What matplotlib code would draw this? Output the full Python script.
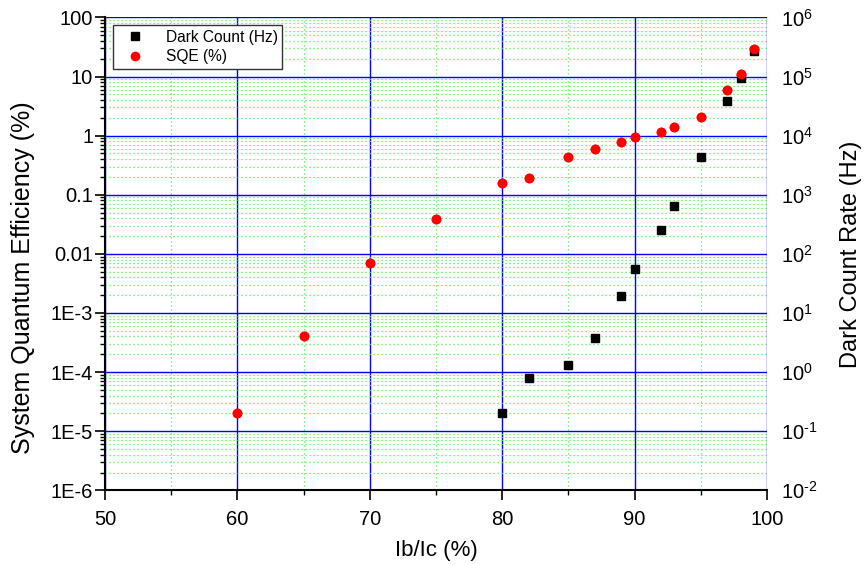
import matplotlib
matplotlib.use("Agg")
import matplotlib.pyplot as plt
from matplotlib.ticker import FixedLocator, FixedFormatter, LogLocator, NullFormatter, MultipleLocator

plt.rcParams['font.family'] = ['Liberation Sans', 'DejaVu Sans']
plt.rcParams['mathtext.fontset'] = 'custom'
plt.rcParams['mathtext.rm'] = 'Liberation Sans'
plt.rcParams['mathtext.it'] = 'Liberation Sans:italic'
plt.rcParams['mathtext.default'] = 'regular'

# Bias current ratio Ib/Ic (%)
sqe_bias = [60, 65, 70, 75, 80, 82, 85, 87, 89, 90, 92, 93, 95, 97, 98, 99]
# System quantum efficiency (%)
sqe_values = [2.0e-5, 4.0e-4, 7.1e-3, 0.039, 0.158, 0.19, 0.44, 0.60, 0.77,
              0.94, 1.17, 1.41, 2.1, 5.9, 11.1, 29.3]

dark_bias = [80, 82, 85, 87, 89, 90, 92, 93, 95, 97, 98, 99]
# Dark count rate (Hz)
dark_values = [0.20, 0.78, 1.34, 3.7, 19.5, 56, 249, 652, 4335, 38270, 93600, 274000]

left_tick_values = [1e-6, 1e-5, 1e-4, 1e-3, 1e-2, 1e-1, 1, 10, 100]
left_tick_labels = ['1E-6', '1E-5', '1E-4', '1E-3', '0.01', '0.1', '1', '10', '100']
right_tick_exponents = [-2, -1, 0, 1, 2, 3, 4, 5, 6]
x_ticks = [50, 60, 70, 80, 90, 100]

fig = plt.figure(figsize=(8.66, 5.65), dpi=100)
ax = fig.add_axes([105 / 866, 1 - 490.3 / 565, 662 / 866, 472.9 / 565])
ax2 = ax.twinx()

ax.set_xlim(50, 100)
ax.set_yscale('log')
ax.set_ylim(1e-6, 100)
ax2.set_yscale('log')
ax2.set_ylim(1e-2, 1e6)

# grid: blue solid majors, green dotted minors
ax.set_axisbelow(True)
ax.xaxis.set_major_locator(FixedLocator(x_ticks))
ax.xaxis.set_minor_locator(MultipleLocator(5))
ax.yaxis.set_major_locator(FixedLocator(left_tick_values))
ax.yaxis.set_major_formatter(FixedFormatter(left_tick_labels))
ax.yaxis.set_minor_locator(LogLocator(base=10, subs=range(2, 10), numticks=20))
ax.yaxis.set_minor_formatter(NullFormatter())
ax.grid(which='major', color='#0000ff', linewidth=1.0, linestyle='-')
ax.grid(which='minor', color='#55ee55', linewidth=0.9, linestyle=(0, (1, 2.2)))

for s in ['top', 'right']:
    ax.spines[s].set_visible(False)
for s in ['left', 'bottom']:
    ax.spines[s].set_linewidth(1.5)
for s in ax2.spines.values():
    s.set_visible(False)

ax.tick_params(axis='both', which='major', direction='out', length=7, width=1.2,
               labelsize=14.5, colors='black')
ax.tick_params(axis='both', which='minor', direction='out', length=3.5, width=1.0)
ax.tick_params(axis='y', which='major', pad=1.5)
ax.tick_params(axis='x', which='major', pad=7)

def power_label(e):
    sign = r'\text{-}' if e < 0 else ''
    return r'$10^{%s%d}$' % (sign, abs(e))

ax2.yaxis.set_major_locator(FixedLocator([10.0 ** e for e in right_tick_exponents]))
ax2.yaxis.set_major_formatter(FixedFormatter([power_label(e) for e in right_tick_exponents]))
ax2.yaxis.set_minor_locator(FixedLocator([]))
ax2.tick_params(axis='y', which='major', length=0, labelsize=14.5, pad=10)

ax.set_xlabel('Ib/Ic (%)', fontsize=16, labelpad=8)
ax.set_ylabel('System Quantum Efficiency (%)', fontsize=18)
ax.yaxis.set_label_coords(-0.105, 0.45)
ax2.set_ylabel('Dark Count Rate (Hz)', fontsize=17)
ax2.yaxis.set_label_coords(1.11, 0.5)

h1, = ax2.plot(dark_bias, dark_values, linestyle='none', marker='s', markersize=5.2,
               color='black', label='Dark Count (Hz)', zorder=3)
h2, = ax.plot(sqe_bias, sqe_values, linestyle='none', marker='o', markersize=6,
              color='#ff0000', label='SQE (%)', zorder=4)
# keep red circles above the squares
ax2.plot(sqe_bias, [v * 1e4 for v in sqe_values], linestyle='none', marker='o',
         markersize=6, color='#ff0000', zorder=4)

leg = ax2.legend([h1, h2], ['Dark Count (Hz)', 'SQE (%)'], loc='upper left',
                 bbox_to_anchor=(0.012, 0.984), borderaxespad=0, fontsize=11.2,
                 fancybox=False, framealpha=1, edgecolor='#333333',
                 handletextpad=0.9, borderpad=0.3, labelspacing=0.3,
                 handlelength=2.2)
leg.get_frame().set_linewidth(1.0)

fig.savefig('out.png', dpi=100)
